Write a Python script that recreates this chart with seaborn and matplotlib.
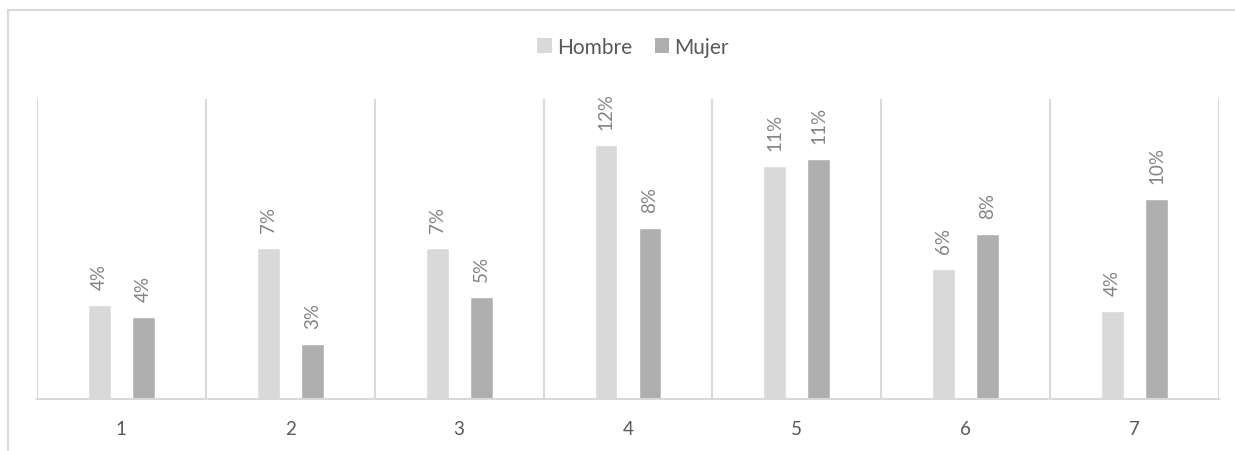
import matplotlib
matplotlib.use("Agg")
import matplotlib.pyplot as plt
from matplotlib.patches import Patch
from matplotlib.lines import Line2D
import numpy as np
import pandas as pd
import seaborn as sns

# Category labels and shares per group
categorias = ["1", "2", "3", "4", "5", "6", "7"]
hombre = [0.0448, 0.0718, 0.0718, 0.1210, 0.1110, 0.0618, 0.0420]
mujer = [0.0389, 0.0260, 0.0487, 0.0814, 0.1143, 0.0784, 0.0955]
series = ["Hombre", "Mujer"]

colores = {"Hombre": "#D9D9D9", "Mujer": "#AFAFAF"}
texto = "#595959"
etiqueta = "#838383"
rejilla = "#D9D9D9"

df = pd.DataFrame({
    "categoria": categorias * 2,
    "valor": hombre + mujer,
    "sexo": [series[0]] * len(categorias) + [series[1]] * len(categorias),
})

sns.set_theme(style="white")
plt.rcParams["font.family"] = ["Lato", "DejaVu Sans"]

W, H = 1235, 452
fig = plt.figure(figsize=(W / 100, H / 100), dpi=100)
ax = fig.add_axes([37 / W, 1 - 400 / H, (1219 - 37) / W, 300 / H])

sns.barplot(data=df, x="categoria", y="valor", hue="sexo", order=categorias,
            hue_order=series, palette=colores, width=0.52, gap=0.48,
            saturation=1, legend=False, ax=ax)

ax.set_xlim(-0.5, len(categorias) - 0.5)
ax.set_ylim(0, 0.1429)

# Value labels above each bar, written vertically
for cont, vals in zip(ax.containers, [hombre, mujer]):
    ax.bar_label(cont, labels=[f"{v:.0%}" for v in vals], rotation=90,
                 padding=11.5, color=etiqueta, fontsize=13.5)

# Vertical separators between categories
ax.set_xticks(np.arange(-0.5, len(categorias)), minor=True)
ax.grid(which="minor", axis="x", color=rejilla, linewidth=1.5)
ax.grid(which="major", visible=False)
ax.tick_params(axis="x", which="both", length=0, pad=15, labelsize=13.5,
               labelcolor=texto)
ax.set_yticks([])
ax.set_xlabel("")
ax.set_ylabel("")
for lado in ["top", "right", "left"]:
    ax.spines[lado].set_visible(False)
ax.spines["bottom"].set_color(rejilla)
ax.spines["bottom"].set_linewidth(1.5)

handles = [Patch(facecolor=colores[s], edgecolor="none", label=s) for s in series]
fig.legend(handles=handles, loc="center", bbox_to_anchor=(633 / W, 1 - 48 / H),
           ncol=2, frameon=False, fontsize=15, handlelength=0.7,
           handleheight=0.7, handletextpad=0.25, columnspacing=1.1,
           labelcolor=texto)

# Chart area border (left and top edges)
borde = dict(color=rejilla, linewidth=1.5, transform=fig.transFigure)
fig.add_artist(Line2D([7.5 / W, 7.5 / W], [0, 1 - 10.5 / H], **borde))
fig.add_artist(Line2D([7.5 / W, 1], [1 - 10.5 / H, 1 - 10.5 / H], **borde))

fig.savefig("out.png", dpi=100, facecolor="white")
